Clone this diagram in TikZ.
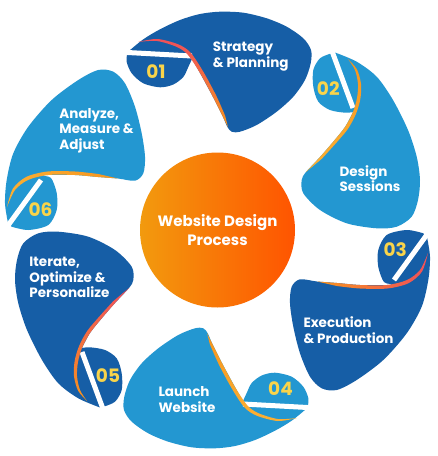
\documentclass[tikz,border=0pt]{standalone}
\usepackage{fontspec}
\setmainfont{Poppins}
\usetikzlibrary{positioning}

\definecolor{darkpetal}{HTML}{165EA6}
\definecolor{lightpetal}{HTML}{2397D1}
\definecolor{numyellow}{HTML}{F9D44A}
\definecolor{accred}{HTML}{F0505A}
\definecolor{accorange}{HTML}{F7941D}
\definecolor{accyellow}{HTML}{FBB034}
\definecolor{hubleft}{HTML}{F29A0E}
\definecolor{hubright}{HTML}{FF5400}

\tikzset{
  cutline/.style = {white, line width=5pt},
  petaltext/.style = {text=white, font=\fontsize{13.5}{15.5}\selectfont\bfseries, align=left, anchor=north west, inner sep=0pt},
  tabnum/.style = {text=numyellow, font=\fontsize{18.5}{20}\selectfont\bfseries, inner sep=0pt},
}

% petal with its tab on the left (01, 04)
\newcommand{\petalone}[3]{%
\begin{scope}[rotate around={#1:(hub.center)}]
\fill [#2] plot [smooth] coordinates {(129.3,50.7) (143.3,39.3) (160,29.3) (180,20) (200,14) (220,11.7) (243.3,12.7) (266.7,18.3) (286.7,26.7) (303.3,38.3) (311,50) (310.7,63.3) (305,80) (293.3,96.7) (276.7,111.7) (256.7,125) (240,131.7) (231.7,131.7) (227.3,126.7) (223,117) (213,97) (200,73) (192,59)}
  -- plot [smooth] coordinates {(192,59) (188.3,67) (183.3,77) (173.3,84.5) (160,87.3) (143.3,83.3) (131.7,73.3) (126.7,62) (127,55)} -- cycle;
\draw [cutline] (122,52.2) -- (192,56);
\shade [#3] plot [smooth] coordinates {(138,42) (157,41) (177,47) (188,55) (200,73) (213,97) (223,117) (228,127)}
  -- plot [smooth] coordinates {(225.2,115.9) (216.1,95.4) (203,71.2) (190.6,52.7) (178.2,44.3) (157.2,39) (138,42)} -- cycle;
\end{scope}}

% petal with its tab at the top (02, 05)
\newcommand{\petaltwo}[3]{%
\begin{scope}[rotate around={#1:(hub.center)}]
\fill [#2] plot [smooth] coordinates {(335,52.5) (356.7,61.7) (376.7,76.7) (393,100) (408,130) (416.7,156.7) (420,180) (418,200) (411.7,216.7) (396.7,226.7) (376.7,228.3) (346.7,223.3) (320,210) (303.3,193.3) (301.7,180) (306,172) (320,157) (333,142) (345,127) (353,112)}
  -- plot [smooth] coordinates {(353,112) (345,112.7) (330,110) (318.3,101.7) (313.3,86.7) (313.3,70) (320,58.3) (331,53.5)} -- cycle;
\draw [cutline] (330.5,47) -- (353,108);
\shade [#3] plot [smooth] coordinates {(348,59) (355,70) (358,84) (357,98) (353,112) (345,127) (333,142) (320,157) (306,172)}
  -- plot [smooth] coordinates {(321.9,158.7) (335.3,143.9) (347.9,128.9) (356.2,113.3) (360.4,98.6) (361,83.8) (356.9,69.3) (348,59)} -- cycle;
\end{scope}}

% petal with its tab at the top right (03, 06)
\newcommand{\petalthree}[3]{%
\begin{scope}[rotate around={#1:(hub.center)}]
\fill [#2] plot [smooth] coordinates {(427,237) (430,256.7) (428.3,280) (421.7,306.7) (406.7,333.3) (383.3,360) (356.7,380) (336.7,390) (321.7,388.3) (310,376.7) (300,353.3) (293.3,326.7) (290,303.3) (291.7,286.7) (300,279.3) (317,281.5) (337,283) (360,285) (387,285) (393,284)}
  -- plot [smooth] coordinates {(393,284) (384,282) (378.3,267) (378.3,250) (386.7,235) (406.7,230) (423.3,233.3)} -- cycle;
\draw [cutline] (431,229) -- (394,280);
\shade [#3] plot [smooth] coordinates {(428,253) (420,270) (407,280) (387,285) (360,285) (337,283) (317,281.5)}
  -- plot [smooth] coordinates {(336.8,286) (359.9,288.5) (387.4,288.5) (408.5,283.2) (422,271.6) (428,253)} -- cycle;
\end{scope}}

\begin{document}
\begin{tikzpicture}[x=1pt, y=-1pt]
\fill [white] (0,0) rectangle (438,456);
\useasboundingbox (0,0) rectangle (438,456);

\node [circle, minimum size=155pt, inner sep=0pt, left color=hubleft, right color=hubright,
  text=white, align=center, font=\fontsize{15}{18.5}\selectfont\bfseries] (hub) at (217.5,230) {Website Design\\Process};

\petalone{0}{darkpetal}{top color=accred, bottom color=accorange}
\petaltwo{0}{lightpetal}{top color=accorange, bottom color=accyellow}
\petalthree{0}{darkpetal}{right color=accred, left color=accorange}
\petalone{180}{lightpetal}{top color=accorange, bottom color=accyellow}
\petaltwo{180}{darkpetal}{top color=accred, bottom color=accorange}
\petalthree{180}{lightpetal}{right color=accorange, left color=accyellow}

% numbers on the tabs
\node [tabnum] (n_1) at (156,71.7) {01};
\node [tabnum] (n_2) at (328.3,88.3) {02};
\node [tabnum] (n_3) at (395.3,249.7) {03};
\node [tabnum] (n_4) at (280.5,388.3) {04};
\node [tabnum] (n_5) at (108,375.8) {05};
\node [tabnum] (n_6) at (40.5,210) {06};

% step texts
\node [petaltext] (t_1) at (212.7,41.7) {Strategy\\\& Planning};
\node [petaltext] (t_2) at (339.3,165) {Design\\Sessions};
\node [petaltext] (t_3) at (303.3,316.7) {Execution\\\& Production};
\node [petaltext] (t_4) at (158.3,386.7) {Launch\\Website};
\node [petaltext] (t_5) at (29.3,257.3) {Iterate,\\Optimize \&\\Personalize};
\node [petaltext] (t_6) at (59.3,108.3) {Analyze,\\Measure \&\\Adjust};
\end{tikzpicture}
\end{document}
